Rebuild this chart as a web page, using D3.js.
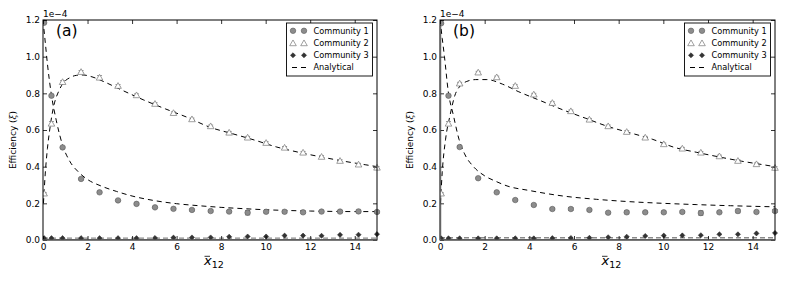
<!DOCTYPE html>
<html>
<head>
<meta charset="utf-8">
<script src="https://cdn.jsdelivr.net/npm/d3@7"></script>
<style>
  html, body { margin: 0; padding: 0; background: #fff; }
  svg { display: block; }
  text { font-family: "DejaVu Sans", sans-serif; fill: #000; }
</style>
</head>
<body>
<svg id="chart" width="789" height="282"></svg>
<script>
// ---------------- data (values in units of 1e-4) ----------------
const xVals = [0.05, 0.38, 0.88, 1.71, 2.54, 3.37, 4.20, 5.03, 5.86, 6.69, 7.53, 8.36, 9.19, 10.02, 10.85, 11.68, 12.51, 13.34, 14.17, 15.0];

// panel (a)
const comm1A = [1.185, 0.787, 0.505, 0.333, 0.260, 0.216, 0.197, 0.178, 0.170, 0.164, 0.158, 0.155, 0.149, 0.154, 0.154, 0.151, 0.155, 0.155, 0.156, 0.153];
const comm2A = [0.255, 0.636, 0.863, 0.918, 0.887, 0.842, 0.791, 0.744, 0.694, 0.660, 0.622, 0.587, 0.560, 0.531, 0.505, 0.478, 0.455, 0.433, 0.413, 0.396];
const comm3A = [0.010, 0.010, 0.010, 0.010, 0.010, 0.010, 0.010, 0.011, 0.013, 0.014, 0.014, 0.018, 0.019, 0.019, 0.024, 0.024, 0.023, 0.028, 0.029, 0.032];
const err1A  = [0.004, 0.006, 0.005, 0.004, 0.005, 0.004, 0.004, 0.004, 0.005, 0.005, 0.006, 0.006, 0.012, 0.006, 0.006, 0.006, 0.006, 0.006, 0.007, 0.006];
const err2A  = [0.004, 0.010, 0.006, 0.006, 0.010, 0.006, 0.006, 0.005, 0.005, 0.005, 0.005, 0.005, 0.005, 0.005, 0.005, 0.005, 0.005, 0.005, 0.005, 0.005];

// panel (b)
const comm1B = [1.182, 0.787, 0.507, 0.337, 0.260, 0.218, 0.191, 0.169, 0.169, 0.164, 0.149, 0.151, 0.151, 0.151, 0.153, 0.147, 0.151, 0.158, 0.153, 0.158];
const comm2B = [0.255, 0.636, 0.855, 0.915, 0.889, 0.842, 0.795, 0.749, 0.704, 0.658, 0.622, 0.591, 0.560, 0.524, 0.500, 0.478, 0.458, 0.433, 0.415, 0.395];
const comm3B = [0.009, 0.009, 0.009, 0.009, 0.009, 0.009, 0.009, 0.010, 0.011, 0.012, 0.015, 0.018, 0.022, 0.024, 0.025, 0.026, 0.031, 0.031, 0.036, 0.038];
const err1B  = [0.004, 0.006, 0.005, 0.004, 0.004, 0.004, 0.004, 0.005, 0.008, 0.005, 0.005, 0.008, 0.005, 0.006, 0.006, 0.012, 0.006, 0.010, 0.006, 0.008];
const err2B  = [0.004, 0.010, 0.005, 0.005, 0.005, 0.005, 0.005, 0.005, 0.005, 0.005, 0.005, 0.005, 0.005, 0.005, 0.005, 0.005, 0.005, 0.005, 0.005, 0.005];

// analytical curves
const anaA1x = [0, 0.1, 0.2, 0.38, 0.6, 0.9, 1.2, 1.6, 2.0, 2.6, 3.3, 4.0, 5.0, 6.0, 7.0, 8.0, 9.0, 10.0, 11.0, 12.0, 13.0, 14.0, 15.0];
const anaA1y = [1.20, 1.08, 0.96, 0.79, 0.65, 0.51, 0.43, 0.37, 0.33, 0.295, 0.265, 0.240, 0.215, 0.198, 0.187, 0.178, 0.171, 0.165, 0.161, 0.158, 0.156, 0.155, 0.155];
const anaA2x = [0.02, 0.1, 0.2, 0.3, 0.4, 0.5, 0.7, 0.9, 1.2, 1.5, 1.8, 2.2, 2.8, 3.5, 4.5, 5.5, 6.5, 7.5, 8.5, 9.5, 10.5, 11.5, 12.5, 13.5, 14.5, 15.0];
const anaA2y = [0.20, 0.36, 0.50, 0.60, 0.68, 0.74, 0.81, 0.855, 0.885, 0.898, 0.900, 0.890, 0.860, 0.820, 0.765, 0.715, 0.668, 0.615, 0.580, 0.545, 0.507, 0.478, 0.453, 0.430, 0.410, 0.400];
const anaA3x = [0, 15];
const anaA3y = [0.010, 0.010];

const anaB1x = [0, 0.1, 0.2, 0.37, 0.6, 0.85, 1.1, 1.5, 2.0, 2.5, 3.0, 4.0, 5.5, 7.0, 8.5, 10.0, 11.5, 13.0, 15.0];
const anaB1y = [1.20, 1.10, 1.00, 0.81, 0.68, 0.55, 0.47, 0.40, 0.35, 0.32, 0.295, 0.270, 0.240, 0.222, 0.209, 0.200, 0.193, 0.187, 0.181];
const anaB2x = [0.02, 0.1, 0.25, 0.45, 0.67, 0.9, 1.2, 1.6, 2.1, 2.8, 3.5, 4.5, 5.5, 6.5, 7.5, 8.5, 9.5, 10.5, 11.5, 12.5, 13.5, 14.5, 15.0];
const anaB2y = [0.20, 0.37, 0.55, 0.68, 0.79, 0.84, 0.865, 0.875, 0.875, 0.850, 0.810, 0.760, 0.710, 0.665, 0.620, 0.585, 0.550, 0.505, 0.478, 0.453, 0.430, 0.410, 0.400];
const anaB3x = [0, 15];
const anaB3y = [0.0125, 0.0125];

const xTicks = [0, 2, 4, 6, 8, 10, 12, 14];
const yTicks = [0.0, 0.2, 0.4, 0.6, 0.8, 1.0, 1.2];
const legendLabels = ["Community 1", "Community 2", "Community 3", "Analytical"];
const panelLabels = ["(a)", "(b)"];
const offsetText = "1e\u22124";
const yLabel = "Efficiency (";
const xLabel = "x";

// ---------------- drawing ----------------
const svg = d3.select("#chart");

const panels = [
  { left: 43, right: 377, label: panelLabels[0],
    c1: comm1A, c2: comm2A, c3: comm3A, e1: err1A, e2: err2A,
    a1: [anaA1x, anaA1y], a2: [anaA2x, anaA2y], a3: [anaA3x, anaA3y], grayLeft: false },
  { left: 440, right: 775, label: panelLabels[1],
    c1: comm1B, c2: comm2B, c3: comm3B, e1: err1B, e2: err2B,
    a1: [anaB1x, anaB1y], a2: [anaB2x, anaB2y], a3: [anaB3x, anaB3y], grayLeft: true }
];
const plotTop = 20, plotBottom = 240;

const circleSym = d3.symbol().type(d3.symbolCircle).size(24);
const triSym = d3.symbol().type(d3.symbolTriangle).size(19);
const diaSym = d3.symbol().type(d3.symbolSquare).size(13);

function styleCircle(sel) { sel.attr("d", circleSym).attr("fill", "#8c8c8c").attr("stroke", "#5a5a5a").attr("stroke-width", 0.6); }
function styleTri(sel) { sel.attr("d", triSym).attr("fill", "#fff").attr("stroke", "#777").attr("stroke-width", 0.7); }
function styleDia(sel) { sel.attr("d", diaSym).attr("fill", "#333").attr("stroke", "#222").attr("stroke-width", 0.5); }

panels.forEach(p => {
  const x = d3.scaleLinear().domain([0, 15]).range([p.left, p.right]);
  const y = d3.scaleLinear().domain([0, 1.2]).range([plotBottom, plotTop]);
  const g = svg.append("g");

  const clipId = "clip" + p.left;
  svg.append("clipPath").attr("id", clipId).append("rect")
    .attr("x", p.left).attr("y", plotTop - 4).attr("width", p.right - p.left + 4).attr("height", plotBottom - plotTop + 4);
  const plot = g.append("g").attr("clip-path", `url(#${clipId})`);

  // gray baseline / left lines
  plot.append("line").attr("x1", x(0)).attr("x2", x(15)).attr("y1", y(0)).attr("y2", y(0))
    .attr("stroke", "#8a8a8a").attr("stroke-width", 2.2);
  if (p.grayLeft) {
    plot.append("line").attr("x1", x(0) + 0.5).attr("x2", x(0) + 0.5).attr("y1", y(0)).attr("y2", y(1.2))
      .attr("stroke", "#8a8a8a").attr("stroke-width", 1.6);
  }

  const line = d3.line().x(d => x(d[0])).y(d => y(d[1])).curve(d3.curveMonotoneX);
  const zipped = arr => arr[0].map((v, i) => [v, arr[1][i]]);

  plot.append("path").datum(zipped(p.a3)).attr("d", line)
    .attr("fill", "none").attr("stroke", "#8a8a8a").attr("stroke-width", 1.4).attr("stroke-dasharray", "5,3");
  plot.append("path").datum(zipped(p.a1)).attr("d", line)
    .attr("fill", "none").attr("stroke", "#000").attr("stroke-width", 1).attr("stroke-dasharray", "5,4");
  plot.append("path").datum(zipped(p.a2)).attr("d", line)
    .attr("fill", "none").attr("stroke", "#000").attr("stroke-width", 1).attr("stroke-dasharray", "5,4");

  // error bars
  function errBars(vals, errs, color) {
    const eg = plot.append("g").attr("stroke", color).attr("stroke-width", 0.8);
    vals.forEach((v, i) => {
      const cx = x(xVals[i]);
      const y1 = y(v - errs[i]), y2 = y(v + errs[i]);
      eg.append("line").attr("x1", cx).attr("x2", cx).attr("y1", y1).attr("y2", y2);
      eg.append("line").attr("x1", cx - 2.5).attr("x2", cx + 2.5).attr("y1", y1).attr("y2", y1);
      eg.append("line").attr("x1", cx - 2.5).attr("x2", cx + 2.5).attr("y1", y2).attr("y2", y2);
    });
  }
  errBars(p.c1, p.e1, "#555");
  errBars(p.c2, p.e2, "#777");

  plot.selectAll(".c1").data(p.c1).join("path").attr("class", "c1")
    .attr("transform", (d, i) => `translate(${x(xVals[i])},${y(d)})`).call(styleCircle);
  plot.selectAll(".c2").data(p.c2).join("path").attr("class", "c2")
    .attr("transform", (d, i) => `translate(${x(xVals[i])},${y(d) + 0.8})`).call(styleTri);
  plot.selectAll(".c3").data(p.c3).join("path").attr("class", "c3")
    .attr("transform", (d, i) => `translate(${x(xVals[i])},${y(d)}) rotate(45)`).call(styleDia);

  // axes (ticks inside, on all four sides)
  const fmt = d3.format(".1f");
  const axB = g.append("g").attr("transform", `translate(0,${plotBottom})`)
    .call(d3.axisBottom(x).tickValues(xTicks).tickSize(-4).tickPadding(4).tickFormat(d3.format("d")));
  const axT = g.append("g").attr("transform", `translate(0,${plotTop})`)
    .call(d3.axisTop(x).tickValues(xTicks).tickSize(-4).tickFormat(""));
  const axL = g.append("g").attr("transform", `translate(${p.left},0)`)
    .call(d3.axisLeft(y).tickValues(yTicks).tickSize(-4).tickPadding(3).tickFormat(fmt));
  const axR = g.append("g").attr("transform", `translate(${p.right},0)`)
    .call(d3.axisRight(y).tickValues(yTicks).tickSize(-4).tickFormat(""));
  [axB, axT, axL, axR].forEach(a => {
    a.select(".domain").remove();
    a.selectAll("line").attr("stroke", "#000").attr("stroke-width", 0.8);
    a.selectAll("text").attr("font-family", "DejaVu Sans").attr("font-size", 9).attr("fill", "#000");
  });

  // frame
  g.append("rect").attr("x", p.left).attr("y", plotTop).attr("width", p.right - p.left).attr("height", plotBottom - plotTop)
    .attr("fill", "none").attr("stroke", "#000").attr("stroke-width", 1);
  if (p.grayLeft) {
    g.append("line").attr("x1", p.left).attr("x2", p.left).attr("y1", plotTop + 6).attr("y2", plotBottom)
      .attr("stroke", "#777").attr("stroke-width", 1.2);
  }
  g.append("line").attr("x1", p.left).attr("x2", p.right).attr("y1", plotBottom).attr("y2", plotBottom)
    .attr("stroke", "#777").attr("stroke-width", 1.2);

  // offset text
  g.append("text").attr("x", p.left).attr("y", plotTop - 3).attr("font-size", 9).text(offsetText);

  // panel label
  g.append("text").attr("x", p.left + 13).attr("y", 36).attr("font-size", 15.5).text(p.label);

  // y label
  const yl = g.append("text")
    .attr("transform", `translate(${p.left - 27},${(plotTop + plotBottom) / 2 + 10}) rotate(-90)`)
    .attr("text-anchor", "middle").attr("font-size", 9);
  yl.append("tspan").text(yLabel);
  yl.append("tspan").attr("font-family", "DejaVu Serif").attr("font-style", "italic").text("\u03BE");
  yl.append("tspan").text(")");

  // x label: x-bar with subscript 12
  const xcx = (p.left + p.right) / 2 + 1;
  const xl = g.append("text").attr("x", xcx - 7).attr("y", 265)
    .attr("font-family", "Liberation Serif").attr("font-size", 13);
  xl.append("tspan").attr("font-style", "italic").text(xLabel);
  xl.append("tspan").attr("font-size", 9.5).attr("dy", 3).text("12");
  g.append("line").attr("x1", xcx - 6.5).attr("x2", xcx - 1).attr("y1", 256.3).attr("y2", 256.3)
    .attr("stroke", "#000").attr("stroke-width", 0.8);

  // legend
  const lw = 86, lh = 53;
  const lx = p.right - 4.5 - lw, ly = 23;
  const lg = g.append("g");
  lg.append("rect").attr("x", lx).attr("y", ly).attr("width", lw).attr("height", lh)
    .attr("fill", "#fff").attr("stroke", "#000").attr("stroke-width", 0.9);
  const rows = [ly + 7.8, ly + 20, ly + 32.3, ly + 44.5];
  const m1 = lx + 6.5, m2 = lx + 17.5;
  [m1, m2].forEach(mx => {
    lg.append("path").attr("transform", `translate(${mx},${rows[0]})`).call(styleCircle);
    lg.append("path").attr("transform", `translate(${mx},${rows[1] + 0.8})`).call(styleTri);
    lg.append("path").attr("transform", `translate(${mx},${rows[2]}) rotate(45)`).call(styleDia);
  });
  lg.append("line").attr("x1", m1 - 1).attr("x2", m2 + 2).attr("y1", rows[3]).attr("y2", rows[3])
    .attr("stroke", "#000").attr("stroke-width", 1).attr("stroke-dasharray", "5,4");
  legendLabels.forEach((t, i) => {
    lg.append("text").attr("x", lx + 27).attr("y", rows[i]).attr("dy", "0.35em")
      .attr("font-size", 8.2).text(t);
  });
});
</script>
</body>
</html>
